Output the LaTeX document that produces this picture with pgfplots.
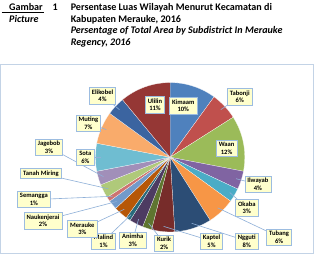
\documentclass[border=0pt]{standalone}
\usepackage{pgfplots}
\pgfplotsset{compat=1.18}
\usepackage{pgfplotstable}
\usepackage{fontspec}
\setmainfont{Carlito}

\definecolor{pc0}{HTML}{4F81BD}
\definecolor{pc1}{HTML}{C0504D}
\definecolor{pc2}{HTML}{9BBB59}
\definecolor{pc3}{HTML}{8064A2}
\definecolor{pc4}{HTML}{4BACC6}
\definecolor{pc5}{HTML}{F79646}
\definecolor{pc6}{HTML}{2C4D75}
\definecolor{pc7}{HTML}{772C2A}
\definecolor{pc8}{HTML}{5F7530}
\definecolor{pc9}{HTML}{4D3B62}
\definecolor{pc10}{HTML}{276A7C}
\definecolor{pc11}{HTML}{B65708}
\definecolor{pc12}{HTML}{729ACA}
\definecolor{pc13}{HTML}{CD7371}
\definecolor{pc14}{HTML}{AFC97A}
\definecolor{pc15}{HTML}{A18FB9}
\definecolor{pc16}{HTML}{6FBDD1}
\definecolor{pc17}{HTML}{F9AB6B}
\definecolor{pc18}{HTML}{3B64A0}
\definecolor{pc19}{HTML}{953735}
\definecolor{framecol}{HTML}{C3D3E6}
\definecolor{leadcol}{HTML}{8FB0D8}
\definecolor{boxfill}{HTML}{FFFFCC}
\definecolor{boxdraw}{HTML}{9CBCE0}

\tikzset{
  lab/.style={draw=boxdraw, fill=boxfill, line width=0.6pt, align=center,
    font=\bfseries\fontsize{6.5}{7.5}\selectfont, inner xsep=2.5pt, inner ysep=2pt},
  leader/.style={draw=leadcol, line width=0.6pt},
}

\pgfplotstableread{
idx name pct
0 Kimaam 10
1 Tabonji 6
2 Waan 12
3 Ilwayab 4
4 Okaba 3
5 Tubang 6
6 Ngguti 8
7 Kaptel 5
8 Kurik 2
9 Animha 3
10 Malind 1
11 Merauke 3
12 Naukenjerai 2
13 Semangga 1
14 TanahMiring 3
15 Jagebob 3
16 Sota 6
17 Muting 7
18 Elikobel 4
19 Ulilin 11
}\piedata

\gdef\runsum{0}
\pgfplotsforeachungrouped \i in {0,...,19}{%
  \pgfplotstablegetelem{\i}{pct}\of\piedata
  \pgfmathsetmacro\st{\runsum*3.6}%
  \pgfmathsetmacro\runsum{\runsum+\pgfplotsretval}%
  \pgfmathsetmacro\en{\runsum*3.6}%
  \pgfmathsetmacro\md{(\st+\en)/2}%
  \expandafter\xdef\csname a\i\endcsname{\st}%
  \expandafter\xdef\csname b\i\endcsname{\en}%
  \expandafter\xdef\csname m\i\endcsname{\md}%
}

\def\cx{170}
\def\cy{153}
\def\rr{74}
\newcommand\leadline[3]{\draw[leader] (axis cs:#2,#3) -- (axis cs:{\cx+0.93*\rr*sin(\csname m#1\endcsname)},{\cy-0.93*\rr*cos(\csname m#1\endcsname)});}

\begin{document}
\begin{tikzpicture}
\begin{axis}[
  width=314pt, height=257pt, scale only axis,
  xmin=0, xmax=314, ymin=0, ymax=257, y dir=reverse,
  hide axis, clip=false,
]
% title
\node[anchor=base west, font=\bfseries\fontsize{10}{12}\selectfont] at (axis cs:7,7.5) {Gambar};
\node[anchor=base west, font=\bfseries\fontsize{10}{12}\selectfont] at (axis cs:50,7.5) {1};
\draw[black, line width=0.5pt] (axis cs:3,9.5) -- (axis cs:45,9.5);
\node[anchor=base west, font=\bfseries\itshape\fontsize{10}{12}\selectfont] at (axis cs:7,19) {Picture};
\node[anchor=base west, font=\bfseries\fontsize{10}{12}\selectfont] at (axis cs:68,7.5) {Persentase Luas Wilayah Menurut Kecamatan di};
\node[anchor=base west, font=\bfseries\fontsize{10}{12}\selectfont] at (axis cs:68,19) {Kabupaten Merauke, 2016};
\node[anchor=base west, font=\bfseries\itshape\fontsize{10}{12}\selectfont] at (axis cs:68,30.7) {Persentage of Total Area by Subdistrict In Merauke};
\node[anchor=base west, font=\bfseries\itshape\fontsize{10}{12}\selectfont] at (axis cs:68,42.4) {Regency, 2016};
% frame
\draw[draw=framecol, line width=1.2pt, fill=white] (axis cs:2,61) rectangle (axis cs:312,248);
% wedges
\pgfplotsinvokeforeach{0,...,19}{
  \fill[pc#1, draw=white, line width=0.2pt] (axis cs:\cx,\cy) -- plot[domain=\csname a#1\endcsname:\csname b#1\endcsname, samples=25, variable=\t] (axis cs:{\cx+\rr*sin(\t)},{\cy-\rr*cos(\t)}) -- cycle;
}
% leader lines
\leadline{1}{239}{93}
\leadline{3}{257}{180}
\leadline{4}{246}{203}
\leadline{5}{278}{232}
\leadline{6}{246}{236}
\leadline{7}{211}{236}
\leadline{8}{164}{238}
\leadline{9}{133}{235}
\leadline{10}{104}{236}
\leadline{11}{83}{224}
\leadline{12}{44}{216}
\leadline{13}{35}{195}
\leadline{14}{42}{169}
\leadline{15}{50}{143}
\leadline{16}{86}{153}
\leadline{17}{89}{119}
\leadline{18}{103}{92}
% labels
\node[lab] at (axis cs:183,102) {Kimaam\\10\%};
\node[lab] at (axis cs:239,93) {Tabonji\\6\%};
\node[lab] at (axis cs:226,144) {Waan\\12\%};
\node[lab] at (axis cs:257,180) {Ilwayab\\4\%};
\node[lab] at (axis cs:246,203) {Okaba\\3\%};
\node[lab] at (axis cs:278,232) {Tubang\\6\%};
\node[lab] at (axis cs:246,236) {Ngguti\\8\%};
\node[lab] at (axis cs:211,236) {Kaptel\\5\%};
\node[lab] at (axis cs:164,238) {Kurik\\2\%};
\node[lab] at (axis cs:133,235) {Animha\\3\%};
\node[lab] at (axis cs:104,236) {Malind\\1\%};
\node[lab] at (axis cs:83,224) {Merauke\\3\%};
\node[lab] at (axis cs:44,216) {Naukenjerai\\2\%};
\node[lab] at (axis cs:35,195) {Semangga\\1\%};
\node[lab] at (axis cs:42,169) {Tanah Miring};
\node[lab] at (axis cs:50,143) {Jagebob\\3\%};
\node[lab] at (axis cs:86,153) {Sota\\6\%};
\node[lab] at (axis cs:89,119) {Muting\\7\%};
\node[lab] at (axis cs:103,92) {Elikobel\\4\%};
\node[lab] at (axis cs:155,101) {Ulilin\\11\%};
\end{axis}
\end{tikzpicture}
\end{document}
